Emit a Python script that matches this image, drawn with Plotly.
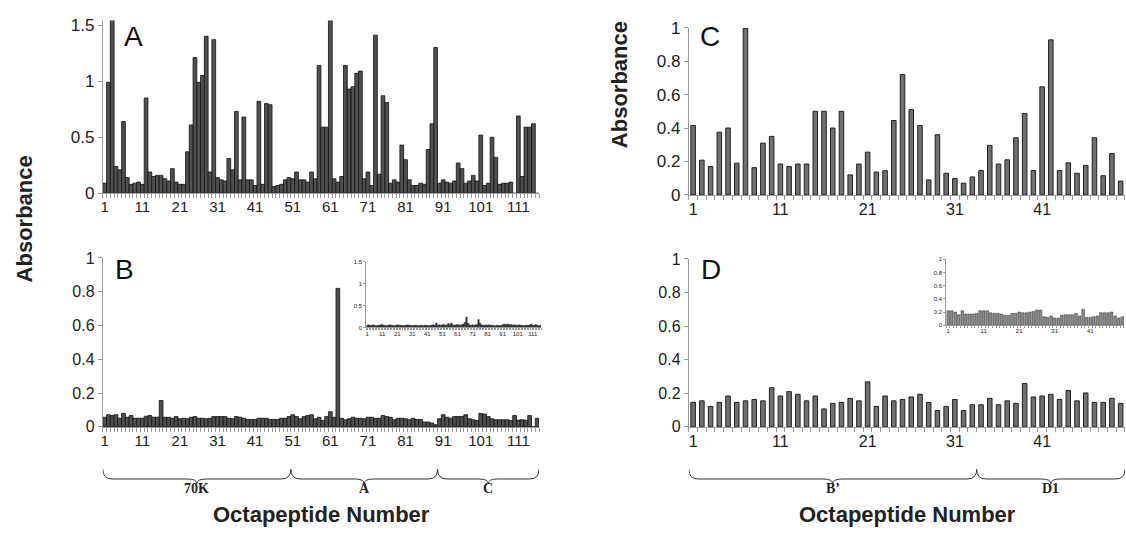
import plotly.graph_objects as go

W, H = 1126, 544

# ---------------- data ----------------
peptides_AB = list(range(1, 117))
abs_A = [0.09, 0.99, 1.55, 0.24, 0.21, 0.64, 0.14, 0.08, 0.09, 0.10,
         0.08, 0.85, 0.19, 0.15, 0.16, 0.16, 0.13, 0.11, 0.22, 0.10,
         0.08, 0.08, 0.37, 0.61, 1.21, 0.99, 1.05, 1.40, 0.19, 1.37,
         0.14, 0.12, 0.11, 0.31, 0.21, 0.73, 0.12, 0.68, 0.12, 0.12,
         0.07, 0.82, 0.08, 0.80, 0.79, 0.06, 0.07, 0.08, 0.12, 0.14,
         0.13, 0.19, 0.12, 0.12, 0.10, 0.19, 0.13, 1.14, 0.59, 0.59,
         1.55, 0.13, 0.10, 0.15, 1.14, 0.93, 0.95, 1.07, 1.09, 0.13,
         0.19, 0.07, 1.41, 0.17, 0.87, 0.81, 0.09, 0.12, 0.10, 0.43,
         0.30, 0.12, 0.07, 0.07, 0.09, 0.08, 0.39, 0.62, 1.30, 0.09,
         0.12, 0.10, 0.09, 0.11, 0.27, 0.22, 0.09, 0.11, 0.16, 0.11,
         0.52, 0.07, 0.09, 0.50, 0.32, 0.08, 0.09, 0.09, 0.10, 0.00,
         0.69, 0.15, 0.59, 0.59, 0.62, 0.00]
abs_B = [0.057, 0.072, 0.067, 0.072, 0.051, 0.080, 0.057, 0.067, 0.051, 0.051,
         0.051, 0.063, 0.067, 0.057, 0.057, 0.156, 0.057, 0.057, 0.051, 0.061,
         0.048, 0.051, 0.048, 0.057, 0.061, 0.051, 0.051, 0.048, 0.051, 0.061,
         0.061, 0.061, 0.061, 0.051, 0.048, 0.061, 0.057, 0.051, 0.044, 0.044,
         0.044, 0.051, 0.051, 0.051, 0.044, 0.044, 0.044, 0.051, 0.051, 0.061,
         0.072, 0.061, 0.048, 0.061, 0.067, 0.072, 0.048, 0.057, 0.038, 0.061,
         0.090, 0.057, 0.820, 0.051, 0.042, 0.048, 0.057, 0.051, 0.051, 0.048,
         0.057, 0.057, 0.051, 0.051, 0.067, 0.061, 0.057, 0.042, 0.051, 0.051,
         0.048, 0.042, 0.051, 0.044, 0.044, 0.029, 0.029, 0.023, 0.013, 0.048,
         0.072, 0.057, 0.051, 0.061, 0.061, 0.061, 0.072, 0.048, 0.042, 0.038,
         0.080, 0.076, 0.061, 0.048, 0.042, 0.042, 0.042, 0.042, 0.038, 0.067,
         0.040, 0.042, 0.040, 0.067, 0.000, 0.051]
inset_B = [0.05, 0.06, 0.05, 0.05, 0.06, 0.05, 0.04, 0.05, 0.05, 0.06,
           0.07, 0.05, 0.05, 0.04, 0.05, 0.06, 0.05, 0.05, 0.04, 0.05,
           0.06, 0.05, 0.05, 0.05, 0.04, 0.05, 0.05, 0.06, 0.05, 0.05,
           0.04, 0.05, 0.05, 0.05, 0.04, 0.05, 0.05, 0.04, 0.05, 0.05,
           0.05, 0.04, 0.05, 0.05, 0.06, 0.05, 0.10, 0.05, 0.06, 0.05,
           0.06, 0.07, 0.05, 0.06, 0.09, 0.06, 0.10, 0.06, 0.05, 0.06,
           0.07, 0.06, 0.05, 0.07, 0.08, 0.12, 0.24, 0.10, 0.06, 0.05,
           0.06, 0.05, 0.06, 0.07, 0.18, 0.10, 0.06, 0.05, 0.05, 0.06,
           0.05, 0.06, 0.05, 0.05, 0.05, 0.04, 0.05, 0.05, 0.04, 0.05,
           0.06, 0.08, 0.06, 0.08, 0.07, 0.06, 0.07, 0.05, 0.06, 0.05,
           0.05, 0.06, 0.05, 0.05, 0.04, 0.05, 0.05, 0.05, 0.06, 0.08,
           0.05, 0.05, 0.07, 0.05, 0.04, 0.05]

peptides_CD = list(range(1, 51))
abs_C = [0.415, 0.208, 0.170, 0.375, 0.400, 0.190, 0.995, 0.163, 0.310, 0.350,
         0.185, 0.170, 0.185, 0.185, 0.500, 0.500, 0.400, 0.500, 0.120, 0.185,
         0.256, 0.137, 0.145, 0.445, 0.720, 0.510, 0.415, 0.090, 0.360, 0.130,
         0.098, 0.070, 0.108, 0.146, 0.296, 0.185, 0.210, 0.342, 0.487, 0.146,
         0.646, 0.927, 0.146, 0.192, 0.130, 0.177, 0.342, 0.115, 0.248, 0.083]
abs_D = [0.146, 0.155, 0.122, 0.146, 0.184, 0.146, 0.155, 0.163, 0.155, 0.233,
         0.184, 0.210, 0.194, 0.155, 0.184, 0.107, 0.140, 0.146, 0.170, 0.155,
         0.268, 0.122, 0.184, 0.155, 0.163, 0.178, 0.194, 0.146, 0.097, 0.122,
         0.163, 0.097, 0.132, 0.132, 0.170, 0.132, 0.155, 0.140, 0.258, 0.178,
         0.184, 0.194, 0.163, 0.217, 0.155, 0.202, 0.146, 0.146, 0.170, 0.140]
inset_D = [0.22, 0.22, 0.20, 0.16, 0.22, 0.17, 0.17, 0.17, 0.18, 0.22,
           0.22, 0.22, 0.19, 0.18, 0.18, 0.17, 0.15, 0.15, 0.18, 0.18,
           0.20, 0.19, 0.19, 0.20, 0.21, 0.23, 0.23, 0.13, 0.12, 0.14,
           0.11, 0.11, 0.15, 0.16, 0.16, 0.16, 0.18, 0.14, 0.24, 0.12,
           0.12, 0.13, 0.14, 0.19, 0.19, 0.19, 0.20, 0.14, 0.11, 0.13]

ticks_AB = [1, 11, 21, 31, 41, 51, 61, 71, 81, 91, 101, 111]
ticks_CD = [1, 11, 21, 31, 41]
regions_B = [("70K", 0.5, 50.5), ("A", 50.5, 89.5), ("C", 89.5, 116.5)]
regions_D = [("B\u2019", 0.5, 33.5), ("D1", 33.5, 50.5)]

# ---------------- helpers ----------------
FONT = "Arial, Liberation Sans, sans-serif"
AX = "#9a9a9a"


def pxx(x):
    return x / W


def pxy(y):
    return (H - y) / H


def xaxis(x0, x1, n, tickvals, size, anchor, ticklen=4):
    return dict(domain=[pxx(x0), pxx(x1)], range=[0.5, n + 0.5],
                tickmode="array", tickvals=tickvals,
                ticktext=[str(v) for v in tickvals], ticks="",
                showline=True, linecolor=AX, linewidth=1,
                minor=dict(ticks="outside", tick0=0.5, dtick=1,
                           ticklen=ticklen, tickcolor=AX, tickwidth=1),
                tickfont=dict(size=size, color="#222", family=FONT),
                showgrid=False, zeroline=False, anchor=anchor,
                fixedrange=True)


def yaxis(y0, y1, rng, tickvals, size, anchor, ticklen=4):
    return dict(domain=[pxy(y0), pxy(y1)], range=rng, tickmode="array",
                tickvals=tickvals, ticktext=[f"{v:g}" for v in tickvals],
                ticks="outside", ticklen=ticklen, tickcolor=AX,
                showline=True, linecolor=AX, linewidth=1,
                tickfont=dict(size=size, color="#222", family=FONT),
                showgrid=False, zeroline=False, anchor=anchor,
                fixedrange=True)


fig = go.Figure()

dark = dict(color="#505050", line=dict(color="#111", width=0.8))
gray = dict(color="#707070", line=dict(color="#222", width=1))

fig.add_trace(go.Bar(x=peptides_AB, y=abs_A, marker=dark, width=1.0,
                     xaxis="x", yaxis="y"))
fig.add_trace(go.Bar(x=peptides_AB, y=abs_B, marker=dark, width=1.0,
                     xaxis="x2", yaxis="y2"))
fig.add_trace(go.Bar(x=peptides_CD, y=abs_C, marker=gray, width=0.52,
                     xaxis="x3", yaxis="y3"))
fig.add_trace(go.Bar(x=peptides_CD, y=abs_D, marker=gray, width=0.52,
                     xaxis="x4", yaxis="y4"))
fig.add_trace(go.Bar(x=peptides_AB, y=inset_B,
                     marker=dict(color="#333", line=dict(color="#111", width=0.3)),
                     width=1.0, xaxis="x5", yaxis="y5"))
fig.add_trace(go.Bar(x=peptides_CD, y=inset_D,
                     marker=dict(color="#8a8a8a", line=dict(color="#333", width=0.5)),
                     width=0.75, xaxis="x6", yaxis="y6"))

fig.update_layout(
    width=W, height=H, margin=dict(l=0, r=0, t=0, b=0),
    paper_bgcolor="white", plot_bgcolor="white", showlegend=False,
    bargap=0, font=dict(family=FONT, color="#222"),
    xaxis=xaxis(101, 538, 116, ticks_AB, 15, "y"),
    yaxis=yaxis(191, 12, [0, 1.54], [0, 0.5, 1, 1.5], 17, "x"),
    xaxis2=xaxis(101, 538, 116, ticks_AB, 15, "y2"),
    yaxis2=yaxis(433, 258, [0, 1], [0, 0.2, 0.4, 0.6, 0.8, 1], 16, "x2"),
    xaxis3=xaxis(688, 1125, 50, ticks_CD, 16, "y3"),
    yaxis3=yaxis(192.7, 19.3, [0, 1], [0, 0.2, 0.4, 0.6, 0.8, 1], 17, "x3"),
    xaxis4=xaxis(688, 1125, 50, ticks_CD, 16, "y4"),
    yaxis4=yaxis(433, 259, [0, 1], [0, 0.2, 0.4, 0.6, 0.8, 1], 16, "x4"),
    xaxis5=xaxis(365, 540, 116, ticks_AB, 6, "y5", ticklen=2),
    yaxis5=yaxis(330, 262, [0, 1.5], [0, 0.5, 1, 1.5], 6, "x5", ticklen=2),
    xaxis6=xaxis(946, 1124, 50, ticks_CD, 6, "y6", ticklen=2),
    yaxis6=yaxis(327.7, 259.3, [0, 1], [0, 0.2, 0.4, 0.6, 0.8, 1], 6, "x6", ticklen=2),
)

ann = []
# panel letters
for letter, x, y in [("A", 132, 28), ("B", 123, 270), ("C", 709, 28), ("D", 710, 270)]:
    ann.append(dict(text=letter, x=pxx(x), y=pxy(y), xref="paper", yref="paper",
                    showarrow=False, font=dict(size=28, family=FONT, color="#111"),
                    xanchor="center", yanchor="middle"))
# axis titles
for x, y in [(22, 217), (618, 78)]:
    ann.append(dict(text="<b>Absorbance</b>", x=pxx(x), y=pxy(y), xref="paper",
                    yref="paper", showarrow=False, textangle=-90,
                    font=dict(size=22, family=FONT, color="#222"),
                    xanchor="center", yanchor="middle"))
for x in [320, 907]:
    ann.append(dict(text="<b>Octapeptide Number</b>", x=pxx(x), y=pxy(524),
                    xref="paper", yref="paper", showarrow=False,
                    font=dict(size=22, family=FONT, color="#222"),
                    xanchor="center", yanchor="middle"))

shapes = []


def brace(xref, x0, x1, dx):
    xm = (x0 + x1) / 2
    yt, yb, ytip = pxy(477), pxy(487), pxy(492)
    path = (f"M {x0},{yt} Q {x0},{yb} {x0 + dx},{yb} L {xm - dx},{yb} "
            f"Q {xm},{yb} {xm},{ytip} Q {xm},{yb} {xm + dx},{yb} "
            f"L {x1 - dx},{yb} Q {x1},{yb} {x1},{yt}")
    return dict(type="path", path=path, xref=xref, yref="paper",
                line=dict(color="#333", width=1))


SERIF = "Liberation Serif, Times New Roman, serif"
for name, a, b in regions_B:
    shapes.append(brace("x2", a, b, 2.5))
    ann.append(dict(text=f"<b>{name}</b>", x=(a + b) / 2, y=pxy(497), xref="x2",
                    yref="paper", showarrow=False,
                    font=dict(size=14, family=SERIF, color="#222"),
                    xanchor="center", yanchor="middle"))
for name, a, b in regions_D:
    shapes.append(brace("x4", a, b, 1.1))
    ann.append(dict(text=f"<b>{name}</b>", x=(a + b) / 2, y=pxy(497), xref="x4",
                    yref="paper", showarrow=False,
                    font=dict(size=14, family=SERIF, color="#222"),
                    xanchor="center", yanchor="middle"))

fig.update_layout(annotations=ann, shapes=shapes)
fig.write_html("out.html",
               config={"displayModeBar": False, "staticPlot": True},
               post_script="document.body.style.margin='0px';"
                           "document.body.style.overflow='hidden';")
